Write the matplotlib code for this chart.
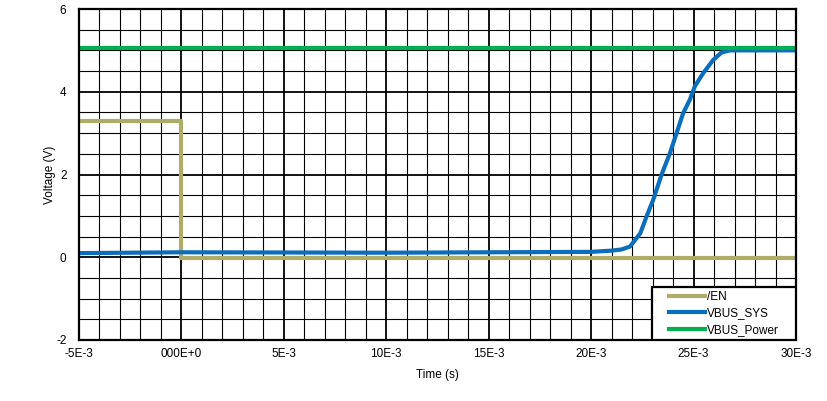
import matplotlib.pyplot as plt
from matplotlib.patches import Rectangle
from matplotlib.ticker import MultipleLocator, FixedLocator, FixedFormatter

plt.rcParams['font.family'] = ['Liberation Sans', 'DejaVu Sans']
plt.rcParams['axes.unicode_minus'] = False

# /EN enable signal (s, V)
en_t = [-5e-3, 0.0, 0.0, 30e-3]
en_v = [3.30, 3.30, -0.01, -0.01]

# VBUS_SYS output (s, V)
sys_t = [-5e-3, 0.0, 10e-3, 20e-3, 21.0e-3, 21.5e-3, 21.9e-3, 22.4e-3, 22.7e-3,
         23.03e-3, 23.44e-3, 23.85e-3, 24.17e-3, 24.49e-3, 24.82e-3, 25.06e-3,
         25.47e-3, 25.96e-3, 26.37e-3, 26.78e-3, 30e-3]
sys_v = [0.10, 0.12, 0.11, 0.13, 0.16, 0.19, 0.26, 0.58, 0.98,
         1.39, 2.00, 2.52, 3.00, 3.48, 3.81, 4.13,
         4.45, 4.77, 4.95, 5.00, 5.00]

# VBUS_Power input (s, V)
pwr_t = [-5e-3, 30e-3]
pwr_v = [5.05, 5.05]

x_ticks = [-5e-3, 0.0, 5e-3, 10e-3, 15e-3, 20e-3, 25e-3, 30e-3]
x_labels = ['-5E-3', '000E+0', '5E-3', '10E-3', '15E-3', '20E-3', '25E-3', '30E-3']

fig = plt.figure(figsize=(8.28, 4.01), dpi=100)
ax = fig.add_axes([79 / 828, 61 / 401, 717 / 828, 331 / 401])

l1, = ax.plot(en_t, en_v, color='#AFAB69', lw=3, label='/EN')
l2, = ax.plot(sys_t, sys_v, color='#0A6EBD', lw=3, label='VBUS_SYS')
l3, = ax.plot(pwr_t, pwr_v, color='#00B050', lw=3, label='VBUS_Power')

ax.set_xlim(-5e-3, 30e-3)
ax.set_ylim(-2, 6)
ax.xaxis.set_major_locator(FixedLocator(x_ticks))
ax.xaxis.set_major_formatter(FixedFormatter(x_labels))
ax.xaxis.set_minor_locator(MultipleLocator(1e-3))
ax.yaxis.set_major_locator(MultipleLocator(2))
ax.yaxis.set_minor_locator(MultipleLocator(0.5))

ax.grid(which='major', color='black', lw=1.3)
ax.grid(which='minor', color='black', lw=0.8)
ax.set_axisbelow(True)
ax.tick_params(which='both', length=0, labelsize=8.5)
ax.tick_params(axis='x', pad=6)
ax.tick_params(axis='y', pad=9)

for s in ax.spines.values():
    s.set_linewidth(1.6)

ax.set_xlabel('Time (s)', fontsize=8.5, labelpad=6)
ax.set_ylabel('Voltage (V)', fontsize=8.5, labelpad=0)

# legend frame drawn as a box flush with the lower-right corner
box_w = (796 - 652) / 717
box_h = (340 - 287) / 331
ax.add_patch(Rectangle((1 - box_w, 0), box_w, box_h, transform=ax.transAxes,
                       facecolor='white', edgecolor='black', lw=1.6, zorder=5))
leg = ax.legend(handles=[l1, l2, l3], loc='center', frameon=False,
                bbox_to_anchor=(1 - box_w / 2, box_h / 2), fontsize=8.5,
                handlelength=3.1, handletextpad=0.15, labelspacing=0.35,
                borderpad=0)
leg.set_zorder(6)

fig.savefig('out.png', dpi=100)
